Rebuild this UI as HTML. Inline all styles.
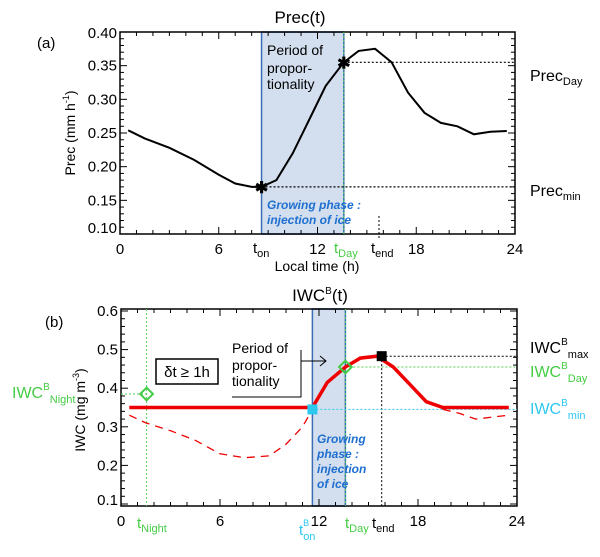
<!DOCTYPE html>
<html><head><meta charset="utf-8"><style>
body{margin:0;background:#fff;}
svg{font-family:"Liberation Sans",Arial,sans-serif;}
</style></head><body>
<svg id="c" width="600" height="552" viewBox="0 0 600 552"></svg>
<script>
// Panel a data
const hoursA=[0.5,1.5,3,4.5,6,7,8,8.6,9.5,10.5,11.5,12.5,13.6,14.5,15.5,16.5,17.5,18.5,19.5,20.5,21.5,22.5,23.5];
const precA=[0.254,0.242,0.228,0.210,0.188,0.175,0.170,0.170,0.180,0.220,0.270,0.320,0.355,0.372,0.375,0.355,0.310,0.280,0.265,0.260,0.248,0.252,0.253];
const yTicksA=[0.10,0.15,0.20,0.25,0.30,0.35,0.40];
const xTicks=[0,6,12,18,24];
// Panel b data
const hoursB=[0.5,11.6,12.5,13.6,14.5,15.5,16.5,17.5,18.5,19.5,23.5];
const iwcB=[0.35,0.35,0.415,0.455,0.478,0.483,0.455,0.41,0.365,0.35,0.35];
const hoursDash1=[0.5,1.5,3,4.5,6,7.5,9,10,11,11.6];
const iwcDash1=[0.33,0.31,0.29,0.265,0.23,0.22,0.225,0.255,0.30,0.345];
const hoursDash2=[19.5,20.5,21.5,22.5,23.5];
const iwcDash2=[0.345,0.335,0.32,0.325,0.33];
const yTicksB=[0.1,0.2,0.3,0.4,0.5,0.6];
const tOnA=8.6,tDay=13.6,tEndA=15.8,precMin=0.170,precDay=0.355;
const tNight=1.55,tOnB=11.6,tEndB=15.8,iwcNight=0.385,iwcMax=0.483,iwcDay=0.455,iwcMin=0.345;

const svg=document.getElementById('c');
const NS='http://www.w3.org/2000/svg';
function el(tag,attrs,parent){const e=document.createElementNS(NS,tag);for(const k in attrs)e.setAttribute(k,attrs[k]);(parent||svg).appendChild(e);return e;}
function txt(x,y,s,attrs){const e=el('text',Object.assign({x:x,y:y},attrs||{}));e.innerHTML=s;return e;}

function panel(o){
  const X=t=>o.x0+(t/24)*(o.x1-o.x0);
  const Y=v=>o.yb-(v-o.vmin)/(o.vmax-o.vmin)*(o.yb-o.yt);
  o.X=X;o.Y=Y;
  const g=el('g',{});
  
  
  const sh=el('rect',{x:X(o.s0),y:o.bt,width:X(o.s1)-X(o.s0),height:o.bb-o.bt,fill:'#d3dfee',stroke:'#3a6db5','stroke-width':1.5},g);
  
  
  const fr=el('rect',{x:o.x0,y:o.bt,width:o.x1-o.x0,height:o.bb-o.bt,fill:'none',stroke:'#000','stroke-width':1.5},g);
  
  
  for(let t=0;t<=24;t++){
    const len=(t%6===0)?7:4;
    el('line',{x1:X(t),x2:X(t),y1:o.bb,y2:o.bb-len,stroke:'#000'},g);
    el('line',{x1:X(t),x2:X(t),y1:o.bt,y2:o.bt+len,stroke:'#000'},g);
  }
  xTicks.forEach(t=>{const e=txt(X(t),o.xly,String(t),{'text-anchor':'middle','font-size':15});});
  const step=o.ticks[1]-o.ticks[0];
  for(let v=o.vmin;v<=o.vmax+1e-9;v+=step/5){
    const major=Math.abs(((v-o.vmin)/step)-Math.round((v-o.vmin)/step))<1e-6;
    const len=major?7:4;
    el('line',{x1:o.x0,x2:o.x0+len,y1:Y(v),y2:Y(v),stroke:'#000'},g);
    el('line',{x1:o.x1,x2:o.x1-len,y1:Y(v),y2:Y(v),stroke:'#000'},g);
  }
  o.ticks.forEach(v=>{const e=txt(o.x0-3,Math.min(Math.max(Y(v)+5,o.bt+6),o.bb-1),v.toFixed(o.dec),{'text-anchor':'end','font-size':15});});
  return g;
}
function line(o,xs,ys,attrs,name){
  const d=xs.map((t,i)=>(i?'L':'M')+o.X(t).toFixed(1)+','+o.Y(ys[i]).toFixed(1)).join(' ');
  const p=el('path',Object.assign({d:d,fill:'none'},attrs));
  
  
  return p;
}

// Panel A
const A={name:'panel-a',x0:120,x1:515,bt:32,bb:234,yt:32,yb:234,vmin:0.10,vmax:0.40,ticks:yTicksA,dec:2,s0:tOnA,s1:tDay,xly:254};
panel(A);
txt(300,23,'Prec(t)',{'text-anchor':'middle','font-size':17});
txt(37,48,'(a)',{'font-size':15});
txt(75,133,'Prec (mm h<tspan font-size="9" dy="-6">-1</tspan><tspan dy="6">)</tspan>',{'text-anchor':'middle','font-size':14,transform:'rotate(-90 75 133)'});
line(A,[tOnA,24],[precMin,precMin],{stroke:'#000','stroke-dasharray':'2,2','stroke-width':1.2},'prec-min-line');
line(A,[tDay,24],[precDay,precDay],{stroke:'#000','stroke-dasharray':'2,2','stroke-width':1.2},'prec-day-line');
el('line',{x1:379,x2:379,y1:216,y2:240,stroke:'#000','stroke-dasharray':'2,2'});
el('line',{x1:A.X(tDay),x2:A.X(tDay),y1:32,y2:234,stroke:'#5c5','stroke-dasharray':'2,2'});
line(A,hoursA,precA,{stroke:'#000','stroke-width':2},'prec-series');
txt(A.X(tOnA),A.Y(precMin)+6,'✱',{'text-anchor':'middle','font-size':16,'font-weight':'bold'});
txt(A.X(tDay),A.Y(precDay)+6,'✱',{'text-anchor':'middle','font-size':16,'font-weight':'bold'});
txt(267,55,'Period of',{'font-size':14});txt(267,73,'propor-',{'font-size':14});txt(267,89,'tionality',{'font-size':14});
txt(267,209,'Growing phase :',{'font-size':12,'font-style':'italic','font-weight':'bold',fill:'#1e6fd0'});
txt(267,224,'injection of ice',{'font-size':12,'font-style':'italic','font-weight':'bold',fill:'#1e6fd0'});
txt(253,253,'t<tspan font-size="11" dy="4">on</tspan>',{'font-size':15});
txt(334,253,'t<tspan font-size="11" dy="4">Day</tspan>',{'font-size':15,fill:'#4c4'});
txt(371,253,'t<tspan font-size="11" dy="4">end</tspan>',{'font-size':15});
txt(317,271,'Local time (h)',{'text-anchor':'middle','font-size':14});
txt(530,81,'Prec<tspan font-size="11" dy="4">Day</tspan>',{'font-size':16});
txt(530,196,'Prec<tspan font-size="11" dy="4">min</tspan>',{'font-size':16});

// Panel B
const B={name:'panel-b',x0:121,x1:517,bt:309,bb:506,yt:311,yb:504,vmin:0.1,vmax:0.6,ticks:yTicksB,dec:1,s0:tOnB,s1:tDay,xly:526};
panel(B);
txt(320,301,'IWC<tspan font-size="10" dy="-7">B</tspan><tspan dy="7">(t)</tspan>',{'text-anchor':'middle','font-size':17});
txt(45,327,'(b)',{'font-size':15});
txt(85,410,'IWC (mg m<tspan font-size="9" dy="-6">-3</tspan><tspan dy="6">)</tspan>',{'text-anchor':'middle','font-size':14,transform:'rotate(-90 85 410)'});
el('line',{x1:B.X(tNight),x2:B.X(tNight),y1:309,y2:506,stroke:'#5c5','stroke-dasharray':'2,2'});
el('line',{x1:B.X(tDay),x2:B.X(tDay),y1:309,y2:506,stroke:'#5c5','stroke-dasharray':'2,2'});
el('line',{x1:B.X(tEndB),x2:B.X(tEndB),y1:B.Y(iwcMax),y2:506,stroke:'#000','stroke-dasharray':'2,2'});
line(B,[0,tNight],[iwcNight,iwcNight],{stroke:'#5c5','stroke-dasharray':'2,2'},'iwc-night-line');
line(B,[tEndB,24],[iwcMax,iwcMax],{stroke:'#000','stroke-dasharray':'2,2'},'iwc-max-line');
line(B,[tDay,24],[iwcDay,iwcDay],{stroke:'#5c5','stroke-dasharray':'2,2'},'iwc-day-line');
line(B,[tOnB,24],[iwcMin,iwcMin],{stroke:'#2cc8f0','stroke-dasharray':'2,2'},'iwc-min-line');
line(B,hoursDash1,iwcDash1,{stroke:'#e00','stroke-dasharray':'8,6','stroke-width':1.3},'iwc-dashed-night');
line(B,hoursDash2,iwcDash2,{stroke:'#e00','stroke-dasharray':'8,6','stroke-width':1.3},'iwc-dashed-evening');
line(B,hoursB,iwcB,{stroke:'#e00','stroke-width':3.5},'iwc-b-series');
el('rect',{x:B.X(tNight)-4.5,y:B.Y(iwcNight)-4.5,width:9,height:9,fill:'none',stroke:'#4c4','stroke-width':2,transform:`rotate(45 ${B.X(tNight)} ${B.Y(iwcNight)})`});
el('rect',{x:B.X(tDay)-4.5,y:B.Y(iwcDay)-4.5,width:9,height:9,fill:'none',stroke:'#4c4','stroke-width':2,transform:`rotate(45 ${B.X(tDay)} ${B.Y(iwcDay)})`});
el('rect',{x:B.X(tEndB)-5,y:B.Y(iwcMax)-5,width:10,height:10,fill:'#000'});
el('rect',{x:B.X(tOnB)-5,y:B.Y(iwcMin)-5,width:10,height:10,fill:'#2cc8f0'});
el('rect',{x:156,y:359,width:62,height:25,fill:'#fff',stroke:'#000','stroke-width':1.5});
txt(187,377,'δt ≥ 1h',{'text-anchor':'middle','font-size':15});
txt(232,353,'Period of',{'font-size':14});txt(232,370,'propor-',{'font-size':14});txt(232,386,'tionality',{'font-size':14});
el('path',{d:'M232,397 L301,397 L301,350 M301,361 L326,361 M320,356 L326,361 L320,366',fill:'none',stroke:'#000'});
txt(317,443,'Growing',{'font-size':12,'font-style':'italic','font-weight':'bold',fill:'#1e6fd0'});
txt(317,458,'phase :',{'font-size':12,'font-style':'italic','font-weight':'bold',fill:'#1e6fd0'});
txt(317,473,'injection',{'font-size':12,'font-style':'italic','font-weight':'bold',fill:'#1e6fd0'});
txt(317,488,'of ice',{'font-size':12,'font-style':'italic','font-weight':'bold',fill:'#1e6fd0'});
txt(137,528,'t<tspan font-size="11" dy="4">Night</tspan>',{'font-size':15,fill:'#4c4'});
txt(299,535,'t<tspan font-size="9" dy="-9">B</tspan><tspan font-size="11" dx="-6" dy="14">on</tspan>',{'font-size':15,fill:'#2cc8f0'});
txt(345,528,'t<tspan font-size="11" dy="4">Day</tspan>',{'font-size':15,fill:'#4c4'});
txt(372,528,'t<tspan font-size="11" dy="4">end</tspan>',{'font-size':15});
txt(12,398,'IWC<tspan font-size="10" dy="-8">B</tspan><tspan font-size="11" dy="13">Night</tspan>',{'font-size':16,fill:'#4c4'});
txt(530,353,'IWC<tspan font-size="10" dy="-8">B</tspan><tspan font-size="11" dy="13">max</tspan>',{'font-size':16});
txt(530,377,'IWC<tspan font-size="10" dy="-8">B</tspan><tspan font-size="11" dy="13">Day</tspan>',{'font-size':16,fill:'#4c4'});
txt(530,414,'IWC<tspan font-size="10" dy="-8">B</tspan><tspan font-size="11" dy="13">min</tspan>',{'font-size':16,fill:'#2cc8f0'});
</script>
</body></html>
